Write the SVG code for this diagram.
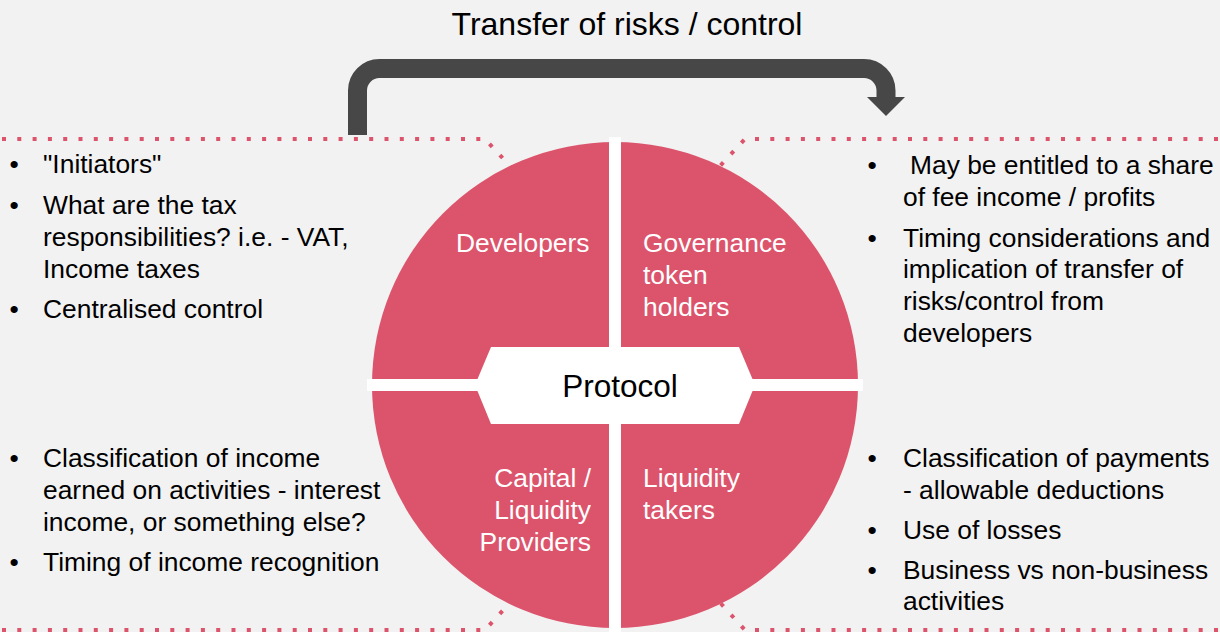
<svg xmlns="http://www.w3.org/2000/svg" width="1220" height="632" viewBox="0 0 1220 632">
<style>
.t{font-family:"Liberation Sans",Arial,sans-serif;font-size:26.4px;fill:#000}
.w{font-family:"Liberation Sans",Arial,sans-serif;font-size:26.4px;fill:#fff}
.dot{fill:none;stroke:#DC546C;stroke-width:4;stroke-dasharray:4 11.3}
</style>
<rect width="1220" height="632" fill="#F2F2F2"/>
<g id="guides">
<path class="dot" d="M2,139 H485 L560,220"/>
<path class="dot" d="M1218,139 H745 L670,220"/>
<path class="dot" d="M2,630 H485 L560,548"/>
<path class="dot" d="M1218,630 H745 L670,548"/>
</g>
<g id="circle">
<circle cx="615" cy="385" r="243" fill="#DC546C"/>
<rect x="609" y="137" width="12" height="495" fill="#fff"/>
<rect x="367" y="379" width="496" height="12" fill="#fff"/>
</g>
<g id="protocol">
<polygon points="491,347 739,347 755,385 739,424 491,424 475,385" fill="#fff"/>
<text x="620" y="397" text-anchor="middle" style="font-family:'Liberation Sans',Arial,sans-serif;font-size:31.5px;fill:#000">Protocol</text>
</g>
<g id="developers"><text class="w" x="456" y="252">Developers</text></g>
<g id="governance"><text class="w" x="643" y="252">Governance</text><text class="w" x="643" y="284">token</text><text class="w" x="643" y="316">holders</text></g>
<g id="capital"><text class="w" x="591" y="487" text-anchor="end">Capital /</text><text class="w" x="591" y="519" text-anchor="end">Liquidity</text><text class="w" x="591" y="551" text-anchor="end">Providers</text></g>
<g id="takers"><text class="w" x="643" y="487">Liquidity</text><text class="w" x="643" y="519">takers</text></g>
<g id="connectors">
<path d="M357.5,135 V90.5 A22 22 0 0 1 379.5,68.5 H864 A22 22 0 0 1 886,90.5 V99" fill="none" stroke="#474747" stroke-width="19"/>
<polygon points="867,97 905,97 886,116" fill="#474747"/>
</g>
<g id="title"><text x="627" y="35" text-anchor="middle" style="font-family:'Liberation Sans',Arial,sans-serif;font-size:32px;fill:#000">Transfer of risks / control</text></g>
<g id="notes-tl">
<text class="t" x="14" y="173" text-anchor="middle">•</text><text class="t" x="43" y="173">"Initiators"</text>
<text class="t" x="14" y="214" text-anchor="middle">•</text><text class="t" x="43" y="214">What are the tax</text>
<text class="t" x="43" y="246">responsibilities? i.e. - VAT,</text>
<text class="t" x="43" y="278">Income taxes</text>
<text class="t" x="14" y="318" text-anchor="middle">•</text><text class="t" x="43" y="318">Centralised control</text>
</g>
<g id="notes-tr">
<text class="t" x="872" y="174" text-anchor="middle">•</text><text class="t" x="910" y="174">May be entitled to a share</text>
<text class="t" x="903" y="206">of fee income / profits</text>
<text class="t" x="872" y="247" text-anchor="middle">•</text><text class="t" x="903" y="247">Timing considerations and</text>
<text class="t" x="903" y="278">implication of transfer of</text>
<text class="t" x="903" y="310">risks/control from</text>
<text class="t" x="903" y="342">developers</text>
</g>
<g id="notes-bl">
<text class="t" x="14" y="467" text-anchor="middle">•</text><text class="t" x="43" y="467">Classification of income</text>
<text class="t" x="43" y="499">earned on activities - interest</text>
<text class="t" x="43" y="531">income, or something else?</text>
<text class="t" x="14" y="571" text-anchor="middle">•</text><text class="t" x="43" y="571">Timing of income recognition</text>
</g>
<g id="notes-br">
<text class="t" x="872" y="467" text-anchor="middle">•</text><text class="t" x="903" y="467">Classification of payments</text>
<text class="t" x="903" y="499">- allowable deductions</text>
<text class="t" x="872" y="539" text-anchor="middle">•</text><text class="t" x="903" y="539">Use of losses</text>
<text class="t" x="872" y="579" text-anchor="middle">•</text><text class="t" x="903" y="579">Business vs non-business</text>
<text class="t" x="903" y="610">activities</text>
</g>
</svg>
